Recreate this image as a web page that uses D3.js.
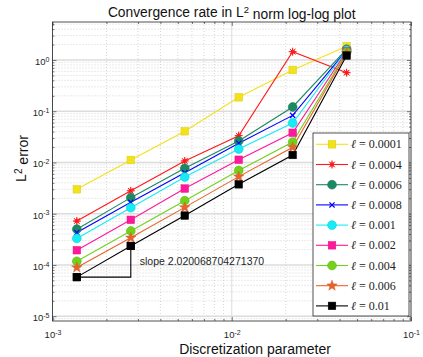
<!DOCTYPE html>
<html>
<head>
<meta charset="utf-8">
<script src="https://cdn.jsdelivr.net/npm/d3@7"></script>
<style>
  html, body { margin: 0; padding: 0; background: #fff; }
  svg { display: block; }
</style>
</head>
<body>
<div id="chart"></div>
<script>
// ── Data ─────────────────────────────────────────────────────────────────────
const h = [0.001367, 0.002734, 0.005469, 0.010938, 0.021875, 0.04375];

const labels = ["0.0001", "0.0004", "0.0006", "0.0008", "0.001", "0.002", "0.004", "0.006", "0.01"];

const err_l0001 = [3.0e-3, 1.12e-2, 4.06e-2, 0.187, 0.638, 1.85];
const err_l0004 = [7.2e-4, 2.8e-3, 1.07e-2, 3.33e-2, 1.45, 0.565];
const err_l0006 = [5.0e-4, 2.06e-3, 7.7e-3, 2.63e-2, 0.121, 1.62];
const err_l0008 = [4.3e-4, 1.67e-3, 6.3e-3, 2.37e-2, 8.3e-2, 1.56];
const err_l001  = [3.3e-4, 1.31e-3, 5.2e-3, 1.83e-2, 5.9e-2, 1.55];
const err_l002  = [1.94e-4, 7.6e-4, 3.1e-3, 1.13e-2, 3.8e-2, 1.48];
const err_l004  = [1.18e-4, 4.6e-4, 1.8e-3, 7.0e-3, 2.5e-2, 1.42];
const err_l006  = [8.9e-5, 3.4e-4, 1.33e-3, 5.3e-3, 1.98e-2, 1.35];
const err_l01   = [5.8e-5, 2.35e-4, 9.2e-4, 3.75e-3, 1.4e-2, 1.22];

const xMajor = [1e-3, 1e-2, 1e-1];
const yMajor = [1e-5, 1e-4, 1e-3, 1e-2, 1e-1, 1e0];

const slopeText = "slope 2.020068704271370";

// ── Styles ───────────────────────────────────────────────────────────────────
const series = [
  { err: err_l0001, color: "#f3e21a", marker: "square" },
  { err: err_l0004, color: "#ff1a1a", marker: "asterisk" },
  { err: err_l0006, color: "#1b8a62", marker: "circle" },
  { err: err_l0008, color: "#0000ff", marker: "x" },
  { err: err_l001,  color: "#15ecf5", marker: "circle" },
  { err: err_l002,  color: "#ff199a", marker: "square" },
  { err: err_l004,  color: "#72d11c", marker: "circle" },
  { err: err_l006,  color: "#e8632b", marker: "pentagram" },
  { err: err_l01,   color: "#000000", marker: "square" },
];

const W = 423, H = 357;
const M = { left: 52.5, right: 411, top: 22, bottom: 321 };
const AXIS = "#262626";
const SANS = "'Liberation Sans', Arial, Helvetica, sans-serif";

const svg = d3.select("#chart").append("svg")
  .attr("width", W).attr("height", H)
  .attr("viewBox", `0 0 ${W} ${H}`);

const x = d3.scaleLog().domain([1e-3, 1e-1]).range([M.left, M.right]);
const y = d3.scaleLog().domain([8.07e-6, 5.51]).range([M.bottom, M.top]);

// minor tick positions (2..9 per decade, inside domain)
function minors(scale) {
  const [a, b] = scale.domain();
  const out = [];
  for (let e = Math.floor(Math.log10(a)); e <= Math.ceil(Math.log10(b)); e++) {
    for (let k = 2; k <= 9; k++) {
      const v = k * Math.pow(10, e);
      if (v >= a && v <= b) out.push(v);
    }
  }
  return out;
}
const xMinor = minors(x), yMinor = minors(y);

// ── Grid ─────────────────────────────────────────────────────────────────────
const grid = svg.append("g");
grid.selectAll(".xmin").data(xMinor).join("line")
  .attr("x1", d => x(d)).attr("x2", d => x(d)).attr("y1", M.top).attr("y2", M.bottom)
  .attr("stroke", "#c4c4c4").attr("stroke-width", 0.7).attr("stroke-dasharray", "1,2");
grid.selectAll(".ymin").data(yMinor).join("line")
  .attr("y1", d => y(d)).attr("y2", d => y(d)).attr("x1", M.left).attr("x2", M.right)
  .attr("stroke", "#c4c4c4").attr("stroke-width", 0.7).attr("stroke-dasharray", "1,2");
grid.selectAll(".xmaj").data(xMajor).join("line")
  .attr("x1", d => x(d)).attr("x2", d => x(d)).attr("y1", M.top).attr("y2", M.bottom)
  .attr("stroke", "#dcdcdc").attr("stroke-width", 1);
grid.selectAll(".ymaj").data(yMajor).join("line")
  .attr("y1", d => y(d)).attr("y2", d => y(d)).attr("x1", M.left).attr("x2", M.right)
  .attr("stroke", "#dcdcdc").attr("stroke-width", 1.5);

// ── Axes (ticks inside, MATLAB style) ────────────────────────────────────────
function supLabels(sel) {
  sel.selectAll(".tick text").each(function (d) {
    const t = d3.select(this);
    const e = Math.round(Math.log10(d));
    t.text(null);
    t.append("tspan").text("10");
    t.append("tspan").attr("dy", "-0.45em").attr("font-size", "7px").text(e);
  });
}
function styleAxis(g) {
  g.select(".domain").remove();
  g.selectAll(".tick line").attr("stroke", AXIS).attr("stroke-width", 0.6);
  g.selectAll(".tick text").attr("fill", AXIS).attr("font-family", SANS).attr("font-size", "9.5px");
}

const gx = svg.append("g").attr("transform", `translate(0,${M.bottom})`)
  .call(d3.axisBottom(x).tickValues(xMajor).tickSize(-4).tickPadding(10));
styleAxis(gx); supLabels(gx);
const gxm = svg.append("g").attr("transform", `translate(0,${M.bottom})`)
  .call(d3.axisBottom(x).tickValues(xMinor).tickSize(-2).tickFormat(""));
styleAxis(gxm);
const gxt = svg.append("g").attr("transform", `translate(0,${M.top})`)
  .call(d3.axisTop(x).tickValues(xMajor).tickSize(-4).tickFormat(""));
styleAxis(gxt);
const gxtm = svg.append("g").attr("transform", `translate(0,${M.top})`)
  .call(d3.axisTop(x).tickValues(xMinor).tickSize(-2).tickFormat(""));
styleAxis(gxtm);

const gy = svg.append("g").attr("transform", `translate(${M.left},0)`)
  .call(d3.axisLeft(y).tickValues(yMajor).tickSize(-4).tickPadding(3));
styleAxis(gy); supLabels(gy);
gy.selectAll(".tick text").attr("dy", "0.45em");
const gym = svg.append("g").attr("transform", `translate(${M.left},0)`)
  .call(d3.axisLeft(y).tickValues(yMinor).tickSize(-2).tickFormat(""));
styleAxis(gym);
const gyr = svg.append("g").attr("transform", `translate(${M.right},0)`)
  .call(d3.axisRight(y).tickValues(yMajor).tickSize(-4).tickFormat(""));
styleAxis(gyr);
const gyrm = svg.append("g").attr("transform", `translate(${M.right},0)`)
  .call(d3.axisRight(y).tickValues(yMinor).tickSize(-2).tickFormat(""));
styleAxis(gyrm);

svg.append("rect")
  .attr("x", M.left).attr("y", M.top)
  .attr("width", M.right - M.left).attr("height", M.bottom - M.top)
  .attr("fill", "none").attr("stroke", AXIS).attr("stroke-width", 0.8);

// ── Markers ──────────────────────────────────────────────────────────────────
function starPath(n, R, r) {
  let p = "";
  for (let i = 0; i < 2 * n; i++) {
    const a = -Math.PI / 2 + i * Math.PI / n;
    const rr = i % 2 ? r : R;
    p += (i ? "L" : "M") + (rr * Math.cos(a)).toFixed(2) + "," + (rr * Math.sin(a)).toFixed(2);
  }
  return p + "Z";
}
function drawMarker(g, type, cx, cy, color) {
  const m = g.append("g").attr("transform", `translate(${cx},${cy})`);
  if (type === "square") {
    m.append("rect").attr("x", -3.8).attr("y", -3.8).attr("width", 7.6).attr("height", 7.6)
      .attr("fill", color).attr("stroke", d3.color(color).darker(0.3)).attr("stroke-width", 0.5);
  } else if (type === "circle") {
    m.append("circle").attr("r", 4.4)
      .attr("fill", color).attr("stroke", d3.color(color).darker(0.4)).attr("stroke-width", 0.6);
  } else if (type === "asterisk") {
    m.append("path").attr("d", starPath(8, 4, 1.6)).attr("fill", color);
    m.append("path").attr("d", "M-4,0L4,0M0,-4L0,4M-2.8,-2.8L2.8,2.8M-2.8,2.8L2.8,-2.8")
      .attr("stroke", color).attr("stroke-width", 1);
  } else if (type === "x") {
    m.append("path").attr("d", "M-2.6,-2.6L2.6,2.6M-2.6,2.6L2.6,-2.6")
      .attr("stroke", color).attr("stroke-width", 1.2);
  } else if (type === "pentagram") {
    m.append("path").attr("d", starPath(5, 5.6, 2.3))
      .attr("fill", color).attr("stroke", d3.color(color).darker(0.3)).attr("stroke-width", 0.4);
  }
}

// ── Series ───────────────────────────────────────────────────────────────────
const line = d3.line().x(d => x(d[0])).y(d => y(d[1]));
const plot = svg.append("g");
series.forEach(s => {
  const pts = h.map((hv, i) => [hv, s.err[i]]);
  plot.append("path").attr("d", line(pts))
    .attr("fill", "none").attr("stroke", s.color).attr("stroke-width", 1.1);
});
series.forEach(s => {
  h.forEach((hv, i) => drawMarker(plot, s.marker, x(hv), y(s.err[i]), s.color));
});

// slope triangle on the finest two points of the last series
const e0 = err_l01[0], e1 = err_l01[1];
plot.append("path")
  .attr("d", line([[h[0], e0], [h[1], e0], [h[1], e1]]))
  .attr("fill", "none").attr("stroke", "#000").attr("stroke-width", 1.1);
drawMarker(plot, "square", x(h[0]), y(e0), "#000000");
drawMarker(plot, "square", x(h[1]), y(e1), "#000000");
svg.append("text")
  .attr("x", x(h[1]) + 9).attr("y", y(Math.sqrt(e0 * e1)) + 3)
  .attr("font-family", SANS).attr("font-size", "10.5px").attr("fill", "#262626")
  .text(slopeText);

// ── Legend ───────────────────────────────────────────────────────────────────
const leg = svg.append("g");
leg.append("rect").attr("x", 313).attr("y", 133).attr("width", 96).attr("height", 183)
  .attr("fill", "#fff").attr("stroke", AXIS).attr("stroke-width", 0.8);
series.forEach((s, i) => {
  const ly = 144.3 + i * 20.2;
  leg.append("line").attr("x1", 316).attr("x2", 348).attr("y1", ly).attr("y2", ly)
    .attr("stroke", s.color).attr("stroke-width", 1.1);
  drawMarker(leg, s.marker, 332, ly, s.color);
  const t = leg.append("text").attr("x", 351).attr("y", ly + 4)
    .attr("font-family", "'Liberation Serif', 'DejaVu Serif', serif")
    .attr("font-size", "12px").attr("fill", "#222");
  t.append("tspan").attr("font-style", "italic").text("ℓ");
  t.append("tspan").text(" = " + labels[i]);
});

// ── Titles ───────────────────────────────────────────────────────────────────
const title = svg.append("text")
  .attr("x", (M.left + M.right) / 2).attr("y", 17)
  .attr("text-anchor", "middle").attr("font-family", SANS)
  .attr("font-size", "13.8px").attr("fill", "#111");
title.append("tspan").text("Convergence rate in L");
title.append("tspan").attr("dy", "-0.45em").attr("font-size", "9.5px").text("2");
title.append("tspan").attr("dy", "0.45em").text(" norm log-log plot");

svg.append("text")
  .attr("x", 255).attr("y", 354)
  .attr("text-anchor", "middle").attr("font-family", SANS)
  .attr("font-size", "14px").attr("fill", "#111")
  .text("Discretization parameter");

const yl = svg.append("text")
  .attr("transform", "translate(26,158.5) rotate(-90)")
  .attr("text-anchor", "middle").attr("font-family", SANS)
  .attr("font-size", "14px").attr("fill", "#111");
yl.append("tspan").text("L");
yl.append("tspan").attr("dy", "-0.45em").attr("font-size", "10px").text("2");
yl.append("tspan").attr("dy", "0.45em").text(" error");
</script>
</body>
</html>
